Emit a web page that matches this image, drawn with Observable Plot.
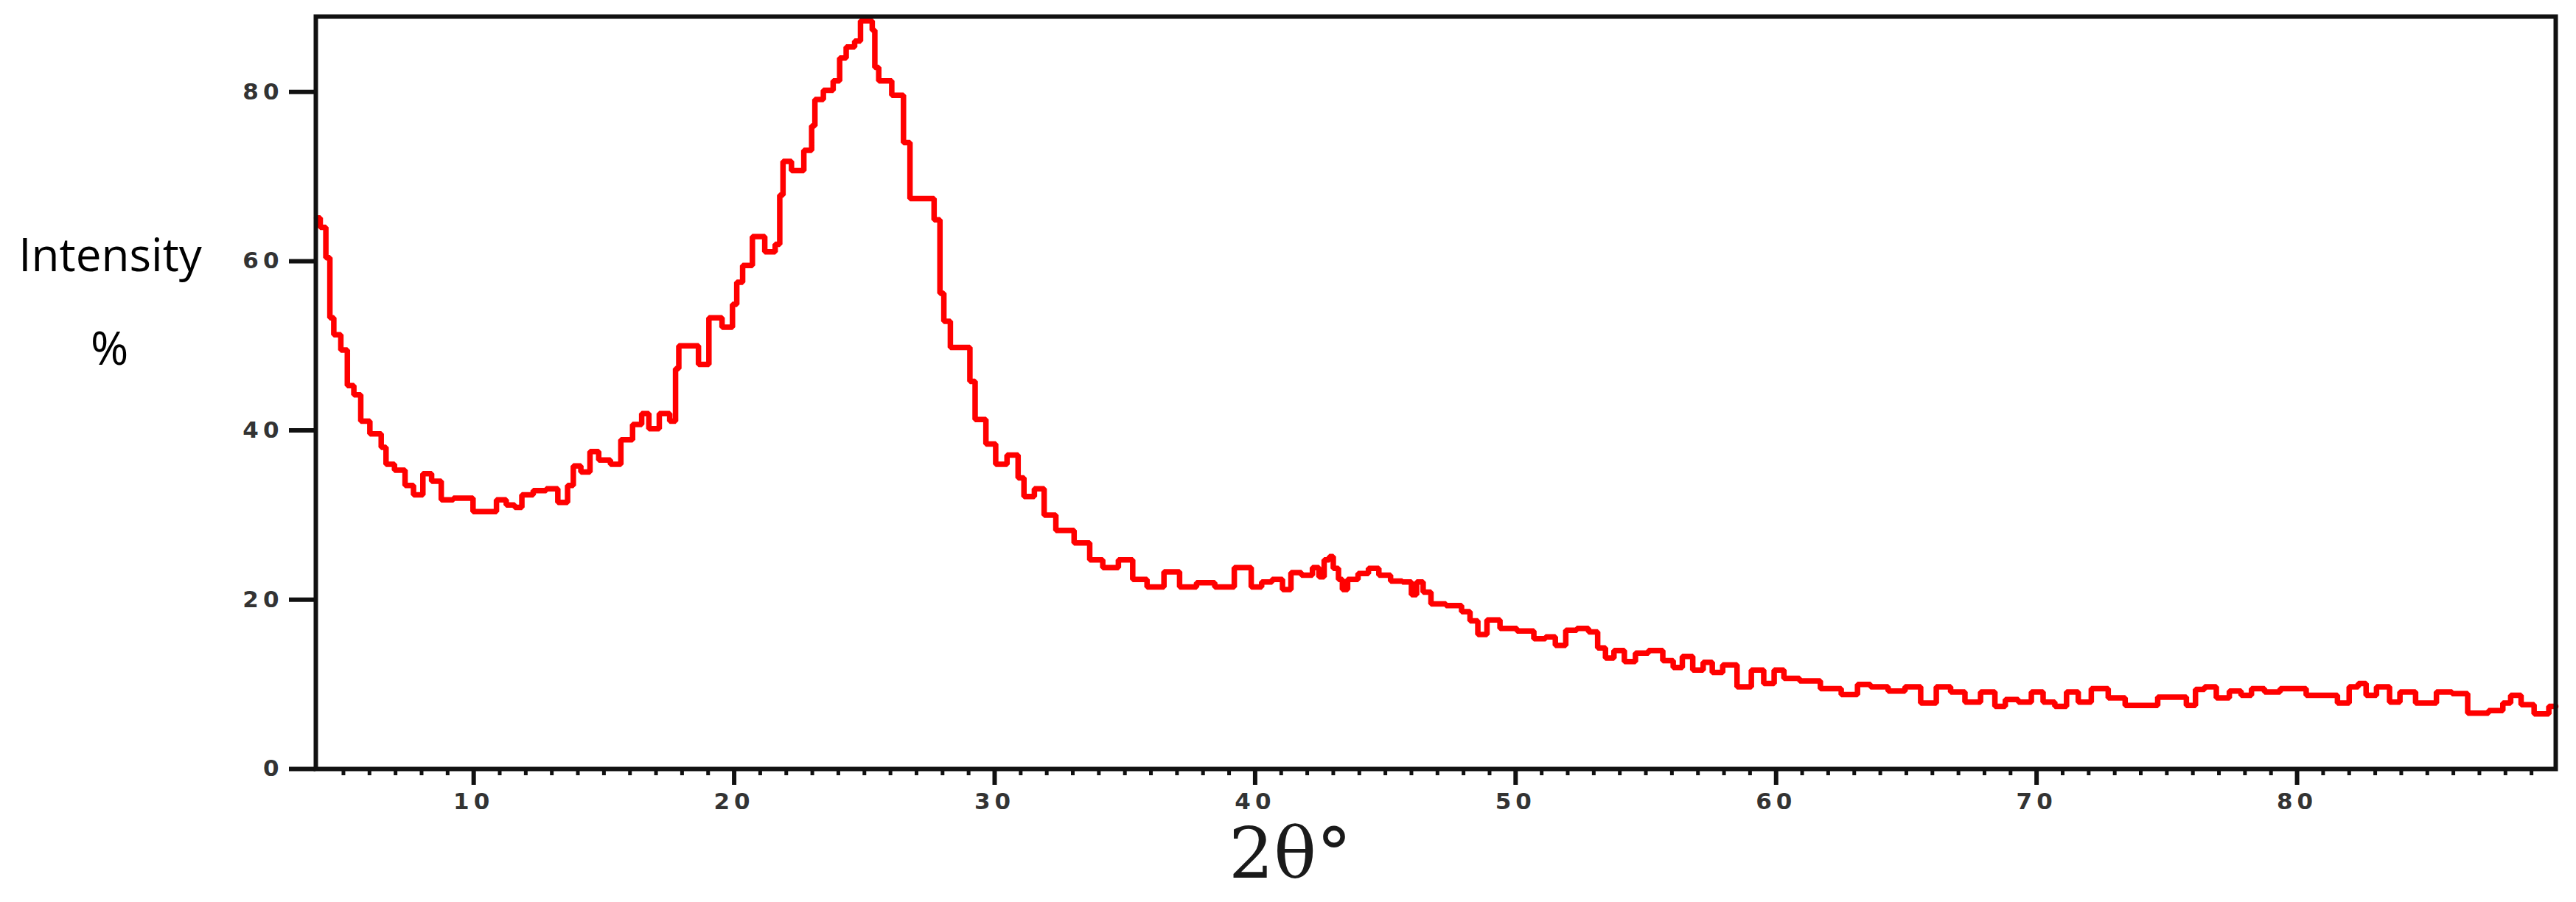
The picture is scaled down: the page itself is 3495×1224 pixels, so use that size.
<!DOCTYPE html>
<html>
<head>
<meta charset="utf-8">
<script src="https://cdn.jsdelivr.net/npm/d3@7"></script>
<script src="https://cdn.jsdelivr.net/npm/@observablehq/plot@0.6"></script>
<style>
  html, body { margin: 0; padding: 0; background: #ffffff; }
  #chart { width: 3495px; height: 1224px; overflow: hidden; }
</style>
</head>
<body>
<div id="chart"></div>
<script>
// 2θ (degrees)
const twoTheta = [
  3.97, 4.25, 4.4, 4.56, 4.7, 5.1, 5.2, 5.6, 5.73, 6.3, 6.6, 6.67, 7.25, 7.48, 7.9, 8.2, 8.57, 8.94, 9.5, 9.75,
  10.2, 10.7, 11.05, 11.45, 11.7, 12.0, 12.57, 13.0, 13.46, 13.75, 13.9, 14.33, 14.6, 15.0, 15.5, 15.8, 16.4, 16.5, 16.95, 17.3,
  17.75, 17.75, 18.0, 18.4, 18.86, 19.2, 19.87, 20.0, 20.2, 20.45, 20.95, 21.4, 21.75, 21.75, 22.0, 22.4, 22.95, 23.0, 23.2, 23.65,
  23.95, 24.15, 24.45, 24.8, 24.9, 25.2, 25.4, 25.4, 25.7, 26.4, 26.6, 26.9, 27.45, 27.9, 27.9, 28.2, 28.4, 29.0, 29.1, 29.4,
  29.93, 30.15, 30.8, 31.0, 31.25, 31.8, 32.0, 32.7, 33.4, 33.9, 34.4, 35.1, 35.5, 36.2, 36.8, 37.4, 38.1, 38.8, 39.6, 40.1,
  40.4, 40.9, 41.2, 41.55, 42.0, 42.4, 42.5, 42.8, 42.9, 43.1, 43.3, 43.4, 43.7, 44.2, 44.5, 45.0, 45.4, 45.9, 46.1, 46.3,
  46.6, 46.9, 47.75, 48.1, 48.4, 48.7, 49.1, 49.7, 50.4, 51.0, 51.3, 51.75, 52.1, 52.6, 53.0, 53.3, 53.6, 53.95, 54.4, 54.8,
  55.4, 55.9, 56.2, 56.6, 57.0, 57.4, 57.7, 58.2, 58.8, 59.3, 59.75, 60.1, 60.5, 61.3, 62.1, 62.9, 63.35, 63.9, 64.7, 65.2,
  65.9, 66.4, 67.0, 67.5, 68.2, 68.6, 69.0, 69.6, 70.0, 70.5, 70.9, 71.4, 71.8, 72.4, 73.1, 73.7, 74.3, 75.0, 75.6, 75.9,
  76.3, 76.6, 77.2, 77.6, 78.1, 78.4, 79.1, 79.6, 80.2, 80.5, 81.3, 81.8, 82.2, 82.5, 82.8, 83.3, 83.8, 84.1, 85.0, 85.7,
  86.2, 86.9, 87.8, 88.0, 88.4, 88.8, 89.4, 89.93
];
// Intensity (%)
const intensity = [
  65.1, 64.0, 60.4, 53.3, 51.3, 49.5, 45.3, 44.2, 41.1, 39.6, 38.0, 36.0, 35.3, 33.5, 32.4, 34.9, 34.0, 31.8, 32.0, 32.0,
  30.4, 30.4, 31.8, 31.2, 30.9, 32.4, 32.9, 33.1, 31.5, 33.5, 35.8, 35.1, 37.5, 36.5, 36.0, 38.9, 40.7, 42.0, 40.2, 42.0,
  41.1, 47.3, 50.0, 50.0, 47.8, 53.3, 52.2, 54.9, 57.5, 59.5, 62.9, 61.1, 62.0, 67.8, 71.8, 70.7, 73.1, 76.0, 79.1, 80.2,
  81.3, 84.0, 85.3, 86.0, 88.4, 88.4, 87.3, 82.9, 81.3, 79.6, 74.0, 67.4, 67.4, 64.9, 56.2, 52.9, 49.8, 49.8, 45.8, 41.3,
  38.4, 36.0, 37.1, 34.4, 32.2, 33.1, 30.0, 28.2, 26.7, 24.7, 23.8, 24.7, 22.4, 21.5, 23.3, 21.5, 22.0, 21.5, 23.8, 21.5,
  22.1, 22.4, 21.2, 23.2, 22.9, 23.8, 22.7, 24.7, 25.1, 23.7, 22.4, 21.2, 22.4, 23.1, 23.7, 22.9, 22.2, 22.1, 20.6, 22.1,
  20.9, 19.5, 19.3, 18.6, 17.5, 15.9, 17.6, 16.6, 16.3, 15.4, 15.6, 14.6, 16.4, 16.6, 16.2, 14.3, 13.1, 14.0, 12.7, 13.7,
  14.0, 12.8, 12.0, 13.3, 11.7, 12.6, 11.4, 12.3, 9.7, 11.7, 10.1, 11.7, 10.7, 10.4, 9.5, 8.8, 10.0, 9.7, 9.2, 9.7,
  7.8, 9.7, 9.1, 7.9, 9.1, 7.4, 8.2, 7.9, 9.1, 7.9, 7.4, 9.1, 7.9, 9.5, 8.4, 7.5, 7.5, 8.5, 8.5, 7.5,
  9.4, 9.7, 8.4, 9.2, 8.7, 9.5, 9.1, 9.5, 9.5, 8.7, 8.7, 7.8, 9.7, 10.1, 8.7, 9.7, 7.9, 9.1, 7.8, 9.1,
  8.9, 6.6, 6.9, 7.8, 8.7, 7.6, 6.5, 7.4
];

const xTicks = [10, 20, 30, 40, 50, 60, 70, 80];
const xMinorTicks = [5, 6, 7, 8, 9, 11, 12, 13, 14, 15, 16, 17, 18, 19, 21, 22, 23, 24, 25, 26, 27, 28, 29,
  31, 32, 33, 34, 35, 36, 37, 38, 39, 41, 42, 43, 44, 45, 46, 47, 48, 49, 51, 52, 53, 54, 55, 56, 57, 58, 59,
  61, 62, 63, 64, 65, 66, 67, 68, 69, 71, 72, 73, 74, 75, 76, 77, 78, 79, 81, 82, 83, 84, 85, 86, 87, 88, 89];
const yTicks = [0, 20, 40, 60, 80];

const xLabel = "2θ°";
const yLabel1 = "Intensity";
const yLabel2 = "%";

const data = twoTheta.map((x, i) => ({ x, y: intensity[i] }));

const tickFont = "'DejaVu Sans', sans-serif";

const chart = Plot.plot({
  width: 3495,
  height: 1224,
  marginLeft: 428,
  marginRight: 28,
  marginTop: 22,
  marginBottom: 181,
  style: { background: "#ffffff", overflow: "visible" },
  x: { domain: [3.94, 89.93] },
  y: { domain: [0, 88.9] },
  marks: [
    Plot.axisX(xMinorTicks, { tickSize: 9, strokeWidth: 5, stroke: "#111", text: null, label: null }),
    Plot.axisX(xTicks, {
      tickSize: 22, tickPadding: 10, strokeWidth: 6, stroke: "#111", fill: "#333",
      fontSize: 31, fontFamily: tickFont, fontWeight: "bold", label: null
    }),
    Plot.axisY(yTicks, {
      tickSize: 36, tickPadding: 8, strokeWidth: 6, stroke: "#111", fill: "#333",
      fontSize: 31, fontFamily: tickFont, fontWeight: "bold", label: null
    }),
    Plot.line(data, { x: "x", y: "y", curve: "step", stroke: "#ff0000", strokeWidth: 7.5, strokeLinejoin: "miter" }),
    Plot.frame({ stroke: "#111", strokeWidth: 6 }),
    Plot.text([yLabel1], {
      text: d => d, frameAnchor: "top-left", dx: -279, dy: 326,
      textAnchor: "middle", lineAnchor: "middle",
      fontSize: 62, fontFamily: "'Open Sans', sans-serif", fill: "#000"
    }),
    Plot.text([yLabel2], {
      text: d => d, frameAnchor: "top-left", dx: -280, dy: 453,
      textAnchor: "middle", lineAnchor: "middle",
      fontSize: 62, fontFamily: "'Open Sans', sans-serif", fill: "#000"
    }),
    Plot.text([xLabel], {
      text: d => d, frameAnchor: "top-left", dx: 1322, dy: 1138,
      textAnchor: "middle", lineAnchor: "middle",
      fontSize: 96, fontFamily: "'DejaVu Serif', serif", fill: "#1a1a1a"
    })
  ]
});

document.getElementById("chart").appendChild(chart);
d3.select(chart).selectAll('g[aria-label="y-axis tick label"] text, g[aria-label="x-axis tick label"] text')
  .style("letter-spacing", "6px");
</script>
</body>
</html>
